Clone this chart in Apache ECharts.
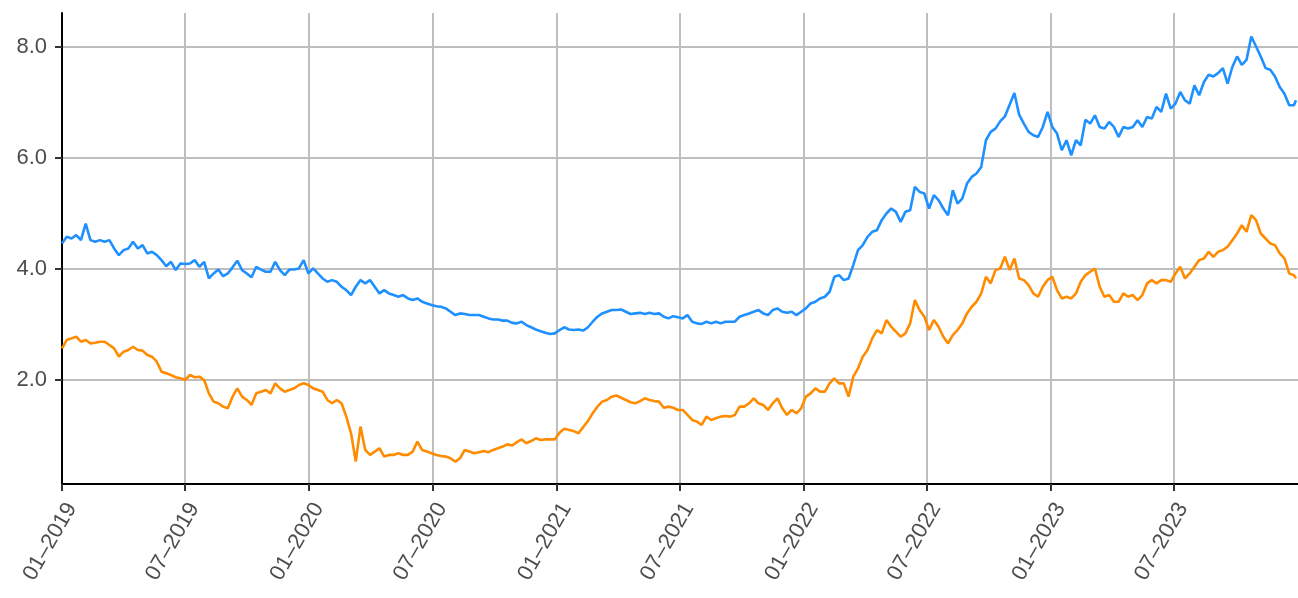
<!DOCTYPE html>
<html>
<head>
<meta charset="utf-8">
<script src="https://cdn.jsdelivr.net/npm/echarts@6/dist/echarts.min.js"></script>
<style>
html,body{margin:0;padding:0;background:#fff;}
#chart{width:1298px;height:598px;}
</style>
</head>
<body>
<div id="chart"></div>
<script>
// Weekly samples starting 2019-01-01, last point 2023-12-29
const startDate = '2019-01-01';
const stepDays = 7;
const lastDate = '2023-12-29';

const blueSeries = [
  4.46,4.58,4.55,4.61,4.52,4.82,4.52,4.49,4.52,4.49,
  4.52,4.37,4.25,4.34,4.37,4.49,4.37,4.43,4.28,4.31,
  4.25,4.16,4.05,4.13,3.98,4.10,4.09,4.10,4.16,4.04,
  4.13,3.83,3.92,3.99,3.87,3.92,4.03,4.15,3.98,3.92,
  3.85,4.04,3.99,3.95,3.95,4.13,3.98,3.89,3.99,3.99,
  4.01,4.16,3.92,4.01,3.92,3.83,3.77,3.80,3.77,3.68,
  3.62,3.53,3.68,3.80,3.74,3.80,3.68,3.56,3.62,3.56,
  3.53,3.50,3.53,3.47,3.44,3.47,3.41,3.38,3.35,3.33,
  3.32,3.29,3.23,3.17,3.20,3.19,3.17,3.17,3.17,3.14,
  3.11,3.09,3.09,3.07,3.07,3.03,3.02,3.05,2.99,2.95,
  2.91,2.88,2.85,2.83,2.84,2.90,2.95,2.91,2.90,2.91,
  2.89,2.95,3.05,3.14,3.20,3.23,3.26,3.26,3.27,3.23,
  3.19,3.20,3.21,3.19,3.21,3.19,3.20,3.14,3.11,3.15,
  3.13,3.11,3.17,3.05,3.02,3.01,3.05,3.02,3.05,3.02,
  3.05,3.05,3.05,3.14,3.17,3.20,3.23,3.26,3.20,3.17,
  3.26,3.29,3.23,3.21,3.23,3.17,3.23,3.29,3.38,3.41,
  3.47,3.50,3.59,3.86,3.89,3.80,3.83,4.07,4.34,4.43,
  4.58,4.67,4.70,4.88,5.00,5.09,5.03,4.85,5.03,5.06,
  5.48,5.39,5.36,5.09,5.33,5.24,5.09,4.97,5.42,5.18,
  5.27,5.54,5.66,5.72,5.84,6.32,6.47,6.53,6.66,6.75,
  6.96,7.17,6.78,6.62,6.47,6.41,6.38,6.56,6.83,6.56,
  6.44,6.14,6.32,6.05,6.32,6.23,6.69,6.62,6.77,6.56,
  6.53,6.65,6.56,6.38,6.56,6.53,6.56,6.68,6.56,6.74,
  6.71,6.92,6.83,7.16,6.89,6.98,7.19,7.04,6.98,7.31,
  7.13,7.37,7.50,7.47,7.53,7.62,7.34,7.64,7.83,7.68,
  7.77,8.19,8.01,7.83,7.62,7.59,7.47,7.28,7.16,6.95,
  6.95,7.04
];

const orangeSeries = [
  2.57,2.72,2.75,2.78,2.69,2.72,2.66,2.67,2.69,2.69,
  2.63,2.57,2.42,2.51,2.54,2.60,2.54,2.53,2.45,2.42,
  2.33,2.15,2.12,2.09,2.05,2.03,2.00,2.09,2.05,2.06,
  2.00,1.76,1.61,1.58,1.52,1.49,1.70,1.85,1.70,1.64,
  1.55,1.76,1.79,1.82,1.76,1.94,1.85,1.79,1.82,1.85,
  1.91,1.94,1.91,1.85,1.82,1.79,1.64,1.58,1.64,1.58,
  1.34,1.04,0.53,1.16,0.74,0.65,0.71,0.77,0.62,0.65,
  0.65,0.68,0.65,0.65,0.71,0.89,0.74,0.71,0.68,0.65,
  0.63,0.62,0.59,0.53,0.59,0.74,0.71,0.68,0.70,0.72,
  0.70,0.74,0.77,0.80,0.84,0.82,0.88,0.93,0.86,0.90,
  0.95,0.92,0.93,0.93,0.93,1.05,1.12,1.10,1.08,1.04,
  1.15,1.26,1.40,1.52,1.61,1.64,1.70,1.72,1.68,1.64,
  1.60,1.58,1.62,1.67,1.64,1.62,1.61,1.50,1.52,1.50,
  1.46,1.46,1.37,1.28,1.25,1.19,1.34,1.28,1.31,1.34,
  1.35,1.34,1.37,1.52,1.52,1.58,1.67,1.58,1.55,1.46,
  1.58,1.67,1.49,1.37,1.46,1.40,1.49,1.70,1.76,1.85,
  1.79,1.79,1.94,2.03,1.94,1.94,1.70,2.06,2.21,2.42,
  2.54,2.75,2.90,2.84,3.08,2.96,2.87,2.78,2.84,3.02,
  3.44,3.26,3.14,2.90,3.08,2.96,2.78,2.66,2.81,2.90,
  3.02,3.20,3.32,3.41,3.56,3.86,3.74,3.98,4.01,4.22,
  3.98,4.19,3.83,3.80,3.71,3.56,3.50,3.68,3.80,3.86,
  3.62,3.47,3.50,3.47,3.56,3.77,3.89,3.95,4.01,3.68,
  3.50,3.53,3.41,3.41,3.56,3.50,3.53,3.44,3.53,3.74,
  3.80,3.74,3.80,3.80,3.77,3.92,4.04,3.83,3.92,4.04,
  4.16,4.19,4.31,4.22,4.31,4.34,4.40,4.52,4.64,4.79,
  4.67,4.97,4.88,4.64,4.55,4.46,4.43,4.28,4.19,3.92,
  3.89,3.83
];

const xTickDates = ['2019-01-01','2019-07-01','2020-01-01','2020-07-01','2021-01-01',
                    '2021-07-01','2022-01-01','2022-07-01','2023-01-01','2023-07-01'];
const xTickLabels = ['01\u20132019','07\u20132019','01\u20132020','07\u20132020','01\u20132021',
                     '07\u20132021','01\u20132022','07\u20132022','01\u20132023','07\u20132023'];
const yTicks = [2, 4, 6, 8];
const xRange = ['2019-01-01', '2024-01-01'];
const yRange = [0.126, 8.613];

function utc(s) { const p = s.split('-').map(Number); return Date.UTC(p[0], p[1]-1, p[2]); }
const DAY = 86400000;
const dates = [];
for (let i = 0; i < blueSeries.length - 1; i++) dates.push(utc(startDate) + i * stepDays * DAY);
dates.push(utc(lastDate));

const xTickVals = xTickDates.map(utc);

const chart = echarts.init(document.getElementById('chart'), null, {renderer: 'canvas'});
const font = 'Liberation Sans, Arial, Helvetica, sans-serif';
chart.setOption({
  animation: false,
  backgroundColor: '#ffffff',
  grid: {left: 62, right: 0, top: 13, bottom: 114},
  xAxis: {
    type: 'value',
    min: utc(xRange[0]),
    max: utc(xRange[1]),
    axisLine: {show: true, lineStyle: {color: '#000', width: 2}},
    axisTick: {show: true, customValues: xTickVals, length: 7, lineStyle: {color: '#333', width: 2}},
    axisLabel: {
      customValues: xTickVals,
      formatter: function (v) {
        let best = 0, bd = Infinity;
        xTickVals.forEach((t, k) => { const dd = Math.abs(t - v); if (dd < bd) { bd = dd; best = k; } });
        return xTickLabels[best];
      },
      rotate: 60, align: 'right', verticalAlign: 'top',
      fontSize: 22, color: '#4d4d4d', fontFamily: font, margin: 15
    },
    splitLine: {show: true, lineStyle: {color: '#bebebe', width: 2}}
  },
  yAxis: {
    type: 'value',
    min: yRange[0],
    max: yRange[1],
    axisLine: {show: true, lineStyle: {color: '#000', width: 2}},
    axisTick: {show: true, customValues: yTicks, length: 7, lineStyle: {color: '#333', width: 2}},
    axisLabel: {
      customValues: yTicks,
      formatter: function (v) { return Number(v).toFixed(1); },
      fontSize: 22, color: '#4d4d4d', fontFamily: font, margin: 15
    },
    splitLine: {show: true, lineStyle: {color: '#bebebe', width: 2}}
  },
  series: [
    {
      type: 'line', showSymbol: false, symbol: 'none',
      data: dates.map((d, i) => [d, blueSeries[i]]),
      lineStyle: {color: '#1e90ff', width: 2.6}, itemStyle: {color: '#1e90ff'}
    },
    {
      type: 'line', showSymbol: false, symbol: 'none',
      data: dates.map((d, i) => [d, orangeSeries[i]]),
      lineStyle: {color: '#ff8c00', width: 2.6}, itemStyle: {color: '#ff8c00'}
    }
  ]
});
</script>
</body>
</html>
